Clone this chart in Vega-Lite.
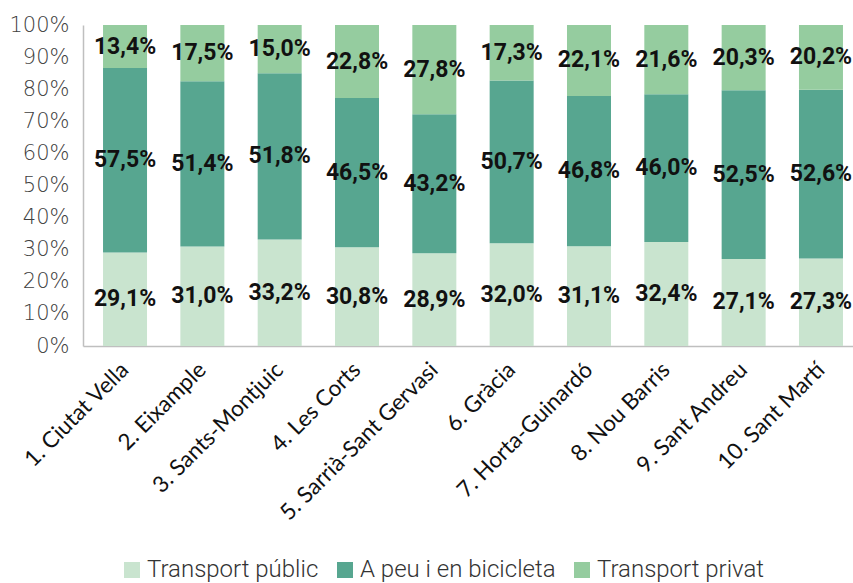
{
  "$schema": "https://vega.github.io/schema/vega-lite/v6.json",
  "autosize": {"type": "none"},
  "width": 780,
  "height": 321,
  "padding": {"left": 83, "top": 25, "right": 0, "bottom": 237},
  "background": "white",
  "config": {
    "locale": {"number": {"decimal": ",", "thousands": ".", "grouping": [3], "currency": ["", "%"]}},
    "view": {"stroke": null},
    "axisY": {
      "title": null, "format": ".0%", "values": [0, 0.1, 0.2, 0.3, 0.4, 0.5, 0.6, 0.7, 0.8, 0.9, 1],
      "labelOverlap": false, "labelFlush": false,
      "grid": false, "ticks": false, "domainColor": "#bfbfbf", "domainWidth": 1.5,
      "labelFont": "DejaVu Sans", "labelFontWeight": 200, "labelFontSize": 21, "labelColor": "#404040", "labelPadding": 14
    }
  },
  "data": {
    "values": [
      {"d": "1. Ciutat Vella", "o": 1, "m": "Transport públic", "k": 1, "v": 29.1},
      {"d": "1. Ciutat Vella", "o": 1, "m": "A peu i en bicicleta", "k": 2, "v": 57.5},
      {"d": "1. Ciutat Vella", "o": 1, "m": "Transport privat", "k": 3, "v": 13.4},
      {"d": "2. Eixample", "o": 2, "m": "Transport públic", "k": 1, "v": 31.0},
      {"d": "2. Eixample", "o": 2, "m": "A peu i en bicicleta", "k": 2, "v": 51.4},
      {"d": "2. Eixample", "o": 2, "m": "Transport privat", "k": 3, "v": 17.5},
      {"d": "3. Sants-Montjuic", "o": 3, "m": "Transport públic", "k": 1, "v": 33.2},
      {"d": "3. Sants-Montjuic", "o": 3, "m": "A peu i en bicicleta", "k": 2, "v": 51.8},
      {"d": "3. Sants-Montjuic", "o": 3, "m": "Transport privat", "k": 3, "v": 15.0},
      {"d": "4. Les Corts", "o": 4, "m": "Transport públic", "k": 1, "v": 30.8},
      {"d": "4. Les Corts", "o": 4, "m": "A peu i en bicicleta", "k": 2, "v": 46.5},
      {"d": "4. Les Corts", "o": 4, "m": "Transport privat", "k": 3, "v": 22.8},
      {"d": "5. Sarrià-Sant Gervasi", "o": 5, "m": "Transport públic", "k": 1, "v": 28.9},
      {"d": "5. Sarrià-Sant Gervasi", "o": 5, "m": "A peu i en bicicleta", "k": 2, "v": 43.2},
      {"d": "5. Sarrià-Sant Gervasi", "o": 5, "m": "Transport privat", "k": 3, "v": 27.8},
      {"d": "6. Gràcia", "o": 6, "m": "Transport públic", "k": 1, "v": 32.0},
      {"d": "6. Gràcia", "o": 6, "m": "A peu i en bicicleta", "k": 2, "v": 50.7},
      {"d": "6. Gràcia", "o": 6, "m": "Transport privat", "k": 3, "v": 17.3},
      {"d": "7. Horta-Guinardó", "o": 7, "m": "Transport públic", "k": 1, "v": 31.1},
      {"d": "7. Horta-Guinardó", "o": 7, "m": "A peu i en bicicleta", "k": 2, "v": 46.8},
      {"d": "7. Horta-Guinardó", "o": 7, "m": "Transport privat", "k": 3, "v": 22.1},
      {"d": "8. Nou Barris", "o": 8, "m": "Transport públic", "k": 1, "v": 32.4},
      {"d": "8. Nou Barris", "o": 8, "m": "A peu i en bicicleta", "k": 2, "v": 46.0},
      {"d": "8. Nou Barris", "o": 8, "m": "Transport privat", "k": 3, "v": 21.6},
      {"d": "9. Sant Andreu", "o": 9, "m": "Transport públic", "k": 1, "v": 27.1},
      {"d": "9. Sant Andreu", "o": 9, "m": "A peu i en bicicleta", "k": 2, "v": 52.5},
      {"d": "9. Sant Andreu", "o": 9, "m": "Transport privat", "k": 3, "v": 20.3},
      {"d": "10. Sant Martí", "o": 10, "m": "Transport públic", "k": 1, "v": 27.3},
      {"d": "10. Sant Martí", "o": 10, "m": "A peu i en bicicleta", "k": 2, "v": 52.6},
      {"d": "10. Sant Martí", "o": 10, "m": "Transport privat", "k": 3, "v": 20.2}
    ]
  },
  "transform": [
    {"stack": "v", "groupby": ["d"], "sort": [{"field": "k", "order": "ascending"}], "offset": "normalize", "as": ["y0", "y1"]},
    {"calculate": "(datum.y0 + datum.y1) / 2", "as": "ym"}
  ],
  "encoding": {
    "x": {
      "field": "d", "type": "nominal", "sort": {"field": "o"},
      "scale": {"paddingInner": 0.431, "paddingOuter": 0.259},
      "axis": {
        "title": null, "labelAngle": -45, "labelAlign": "right", "labelBaseline": "middle",
        "labelFont": "Lato", "labelFontSize": 22.5, "labelColor": "#111111", "labelPadding": 20,
        "labelLimit": 300, "labelOverlap": false,
        "ticks": false, "domainColor": "#bfbfbf", "domainWidth": 1.5
      }
    }
  },
  "layer": [
    {
      "mark": {"type": "bar"},
      "encoding": {
        "y": {
          "field": "y0", "type": "quantitative",
          "scale": {"domain": [0, 1], "nice": false}
        },
        "y2": {"field": "y1"},
        "color": {
          "field": "m", "type": "nominal",
          "sort": ["Transport públic", "A peu i en bicicleta", "Transport privat"],
          "scale": {"domain": ["Transport públic", "A peu i en bicicleta", "Transport privat"], "range": ["#c9e4cf", "#57a690", "#95cc9f"]},
          "legend": {
            "title": null, "orient": "none", "direction": "horizontal", "legendX": 37, "legendY": 533,
            "symbolType": "square", "symbolSize": 256, "symbolStrokeWidth": 0,
            "labelFont": "Roboto", "labelFontWeight": 300, "labelFontSize": 24, "labelColor": "#333333",
            "labelOffset": 3, "columnPadding": 14, "labelLimit": 400
          }
        }
      }
    },
    {
      "mark": {"type": "text", "font": "Roboto", "fontWeight": "bold", "fontSize": 23, "color": "#111111", "baseline": "middle"},
      "encoding": {
        "y": {"field": "ym", "type": "quantitative"},
        "text": {"field": "v", "type": "quantitative", "format": "$.1f"}
      }
    }
  ]
}
